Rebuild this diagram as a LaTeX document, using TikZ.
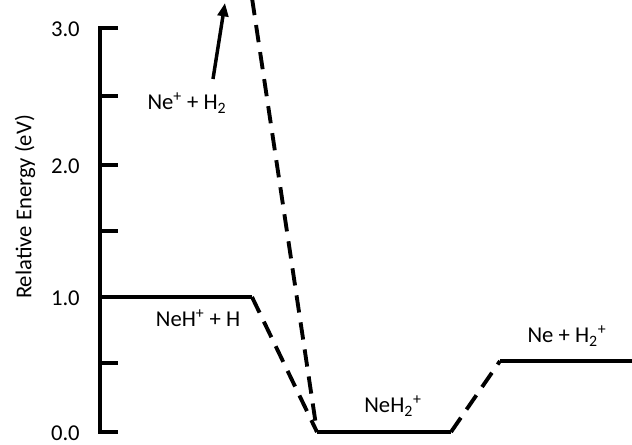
\documentclass[tikz,border=0pt]{standalone}
\usepackage{fontspec}
\setmainfont{Carlito}
\usetikzlibrary{arrows.meta}
\begin{document}
\begin{tikzpicture}[x=0.75pt,y=-0.75pt,
  axisline/.style={line width=3.2pt,line join=miter},
  level/.style={line width=2.5pt},
  dashlink/.style={line width=2.9pt,dash pattern=on 13pt off 7.5pt},
  lbl/.style={font=\fontsize{17}{20}\selectfont,inner sep=0pt},
  ticklbl/.style={font=\fontsize{17}{20}\selectfont,inner sep=0pt,anchor=east}]
\useasboundingbox (0,0) rectangle (632,445);
\clip (0,0) rectangle (632,445);
% axis
\coordinate (axtop) at (100,28);
\coordinate (axbot) at (100,432);
\coordinate (ttop) at (118,28);
\coordinate (tbot) at (118,432);
\draw[axisline] (ttop) -- (axtop) -- (axbot) -- (tbot);
\foreach \yy in {96,165,231,297,363} {
  \draw[axisline] (100,\yy) -- (118,\yy);
}
\node[ticklbl] (l3) at (80,29) {3.0};
\node[ticklbl] (l2) at (80,166) {2.0};
\node[ticklbl] (l1) at (80,298) {1.0};
\node[ticklbl] (l0) at (80,433) {0.0};
\node[lbl,rotate=90] (ylab) at (25,207) {Relative Energy (eV)};
% levels
\coordinate (a1) at (118,297);
\coordinate (a2) at (252,297);
\coordinate (b1) at (317,432);
\coordinate (b2) at (451,432);
\coordinate (c1) at (500,361);
\coordinate (c2) at (632,361);
\coordinate (topdash) at (252,-2);
\draw[level] (a1) -- (a2);
\draw[level] (b1) -- (b2);
\draw[level] (c1) -- (c2);
\draw[dashlink] (a2) -- (b1);
\draw[dashlink] (topdash) -- (b1);
\draw[dashlink] (b2) -- (c1);
% arrow
\coordinate (arS) at (213,79);
\coordinate (arE) at (225,3);
\draw[line width=2.6pt,-{Triangle[length=10pt,width=8pt]}] (arS) -- (arE);
% labels
\node[lbl] (t1) at (187,103) {Ne\textsuperscript{+} + H\textsubscript{2}};
\node[lbl] (t2) at (198,318) {NeH\textsuperscript{+} + H};
\node[lbl] (t3) at (393,406) {NeH\textsubscript{2}\textsuperscript{+}};
\node[lbl] (t4) at (567,336) {Ne + H\textsubscript{2}\textsuperscript{+}};
\end{tikzpicture}
\end{document}
